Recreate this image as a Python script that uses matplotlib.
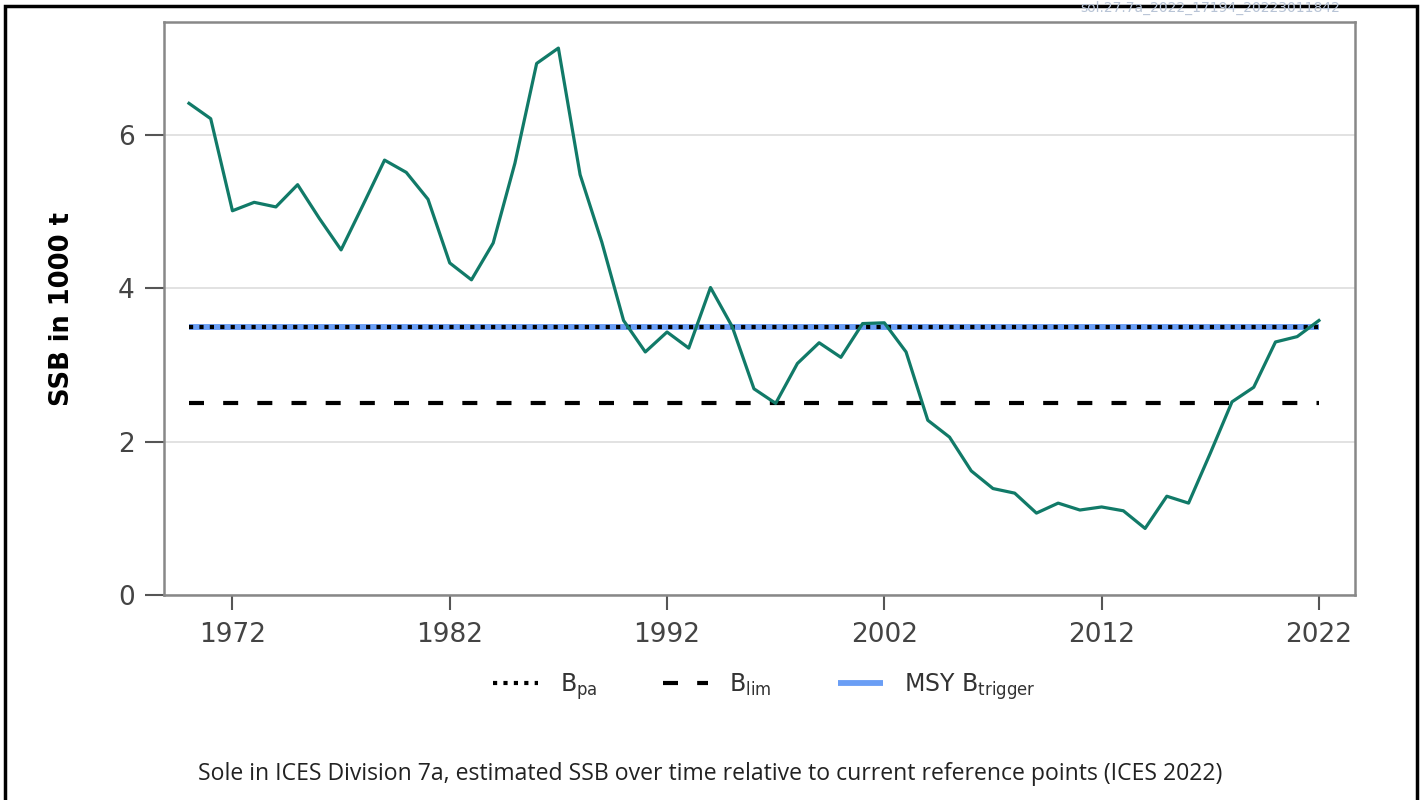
import matplotlib
matplotlib.use("Agg")
import matplotlib.pyplot as plt
from matplotlib.patches import Rectangle

# SSB in 1000 t
years = list(range(1970, 2023))
ssb = [6.41, 6.21, 5.01, 5.12, 5.06, 5.35, 4.91, 4.50, 5.08, 5.67,
       5.51, 5.16, 4.33, 4.11, 4.59, 5.63, 6.93, 7.13, 5.48, 4.60,
       3.58, 3.17, 3.43, 3.22, 4.01, 3.50, 2.69, 2.50, 3.02, 3.29,
       3.10, 3.54, 3.55, 3.17, 2.28, 2.06, 1.62, 1.39, 1.33, 1.07,
       1.20, 1.11, 1.15, 1.10, 0.87, 1.29, 1.20, 1.85, 2.52, 2.71,
       3.30, 3.37, 3.58]
bpa = 3.5
blim = 2.5
msy_btrigger = 3.5
xticks = [1972, 1982, 1992, 2002, 2012, 2022]
yticks = [0, 2, 4, 6]

caption = ("Sole in ICES Division 7a, estimated SSB over time relative to "
           "current reference points (ICES 2022)")
stamp = "sol.27.7a_2022_17194_20223011842"

fig = plt.figure(figsize=(14.21, 8), dpi=100)
ax = fig.add_axes([0.1154, 0.256, 0.838, 0.7165])

ax.plot([years[0], years[-1]], [msy_btrigger] * 2, color="#6a9ef5", lw=4.2,
        solid_capstyle="butt", label=r"MSY B$_{\mathrm{trigger}}$", zorder=2)
ax.plot([years[0], years[-1]], [bpa] * 2, color="black", lw=3,
        linestyle=(0, (1, 1.5)), label=r"B$_{\mathrm{pa}}$", zorder=3)
ax.plot([years[0], years[-1]], [blim] * 2, color="black", lw=3,
        linestyle=(0, (3.6, 4.6)), label=r"B$_{\mathrm{lim}}$", zorder=3)
ax.plot(years, ssb, color="#117a68", lw=2.3, zorder=4)

ax.set_xlim(1968.85, 2023.65)
ax.set_ylim(0, 7.47)
ax.set_xticks(xticks)
ax.set_yticks(yticks)
ax.grid(axis="y", color="#dddddd", lw=1.2)
ax.set_axisbelow(True)
for s in ax.spines.values():
    s.set_color("#888888")
    s.set_linewidth(1.8)
ax.tick_params(axis="y", length=14, width=1.5, color="#555555",
               labelsize=19, labelcolor="#444444", pad=7)
ax.tick_params(axis="x", length=11, width=1.5, color="#555555",
               labelsize=19, labelcolor="#444444", pad=8)
ax.set_ylabel("SSB in 1000 t", fontsize=18.5, fontweight="bold",
              labelpad=31)

handles, labels = ax.get_legend_handles_labels()
order = [1, 2, 0]
ax.legend([handles[i] for i in order], [labels[i] for i in order],
          loc="center", bbox_to_anchor=(0.538, 0.142),
          bbox_transform=fig.transFigure, ncol=3, frameon=False,
          fontsize=17, handlelength=1.9, handletextpad=0.9,
          columnspacing=2.8, labelcolor="#333333")

fig.text(0.5, 0.033, caption, ha="center", va="center", fontsize=16.6,
         family="Open Sans", color="#222222")
fig.text(0.943, 0.999, stamp, ha="right", va="top", fontsize=10,
         color="#b8c4d6")

# outer frame
fig.patches.append(Rectangle((0.0035, -0.01), 0.9935, 1.003,
                             transform=fig.transFigure, fill=False,
                             edgecolor="black", lw=2.5))

fig.savefig("out.png", dpi=100)
